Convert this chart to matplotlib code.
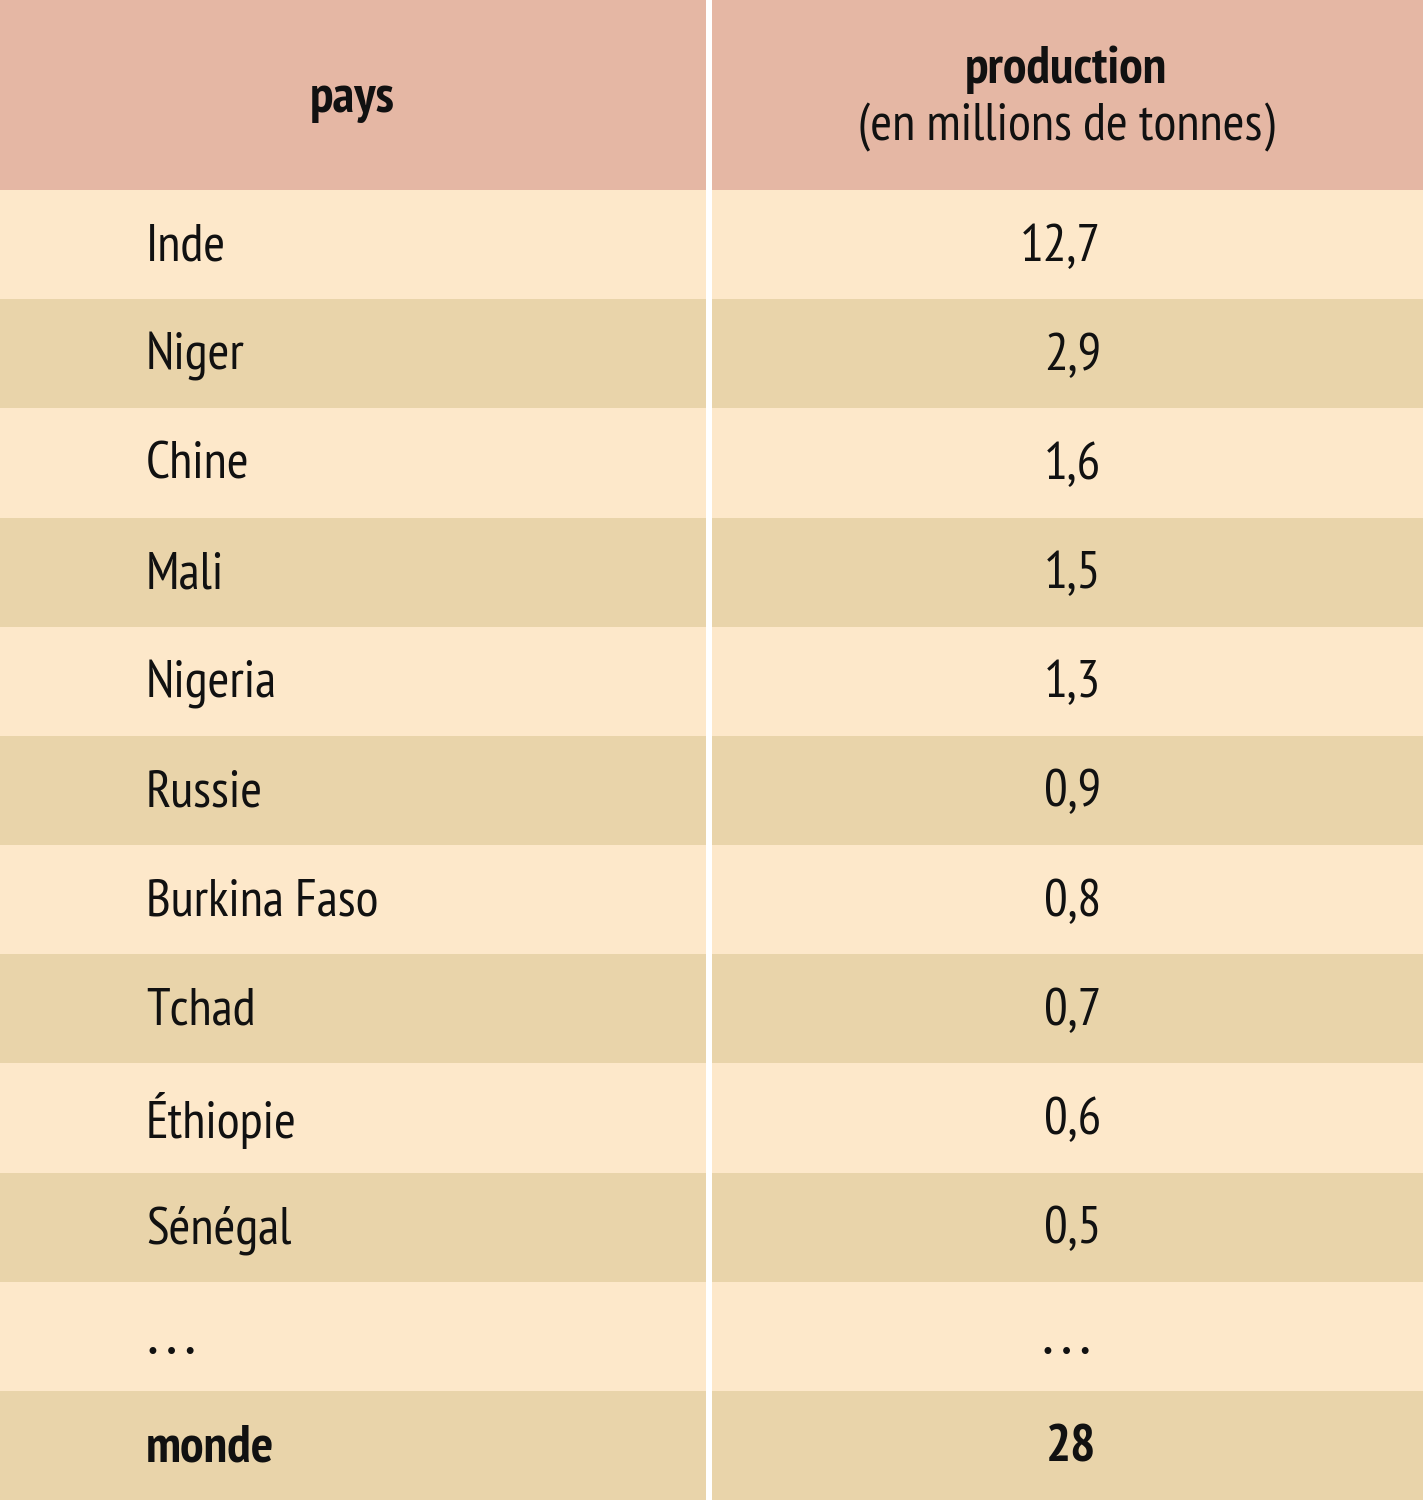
import matplotlib
matplotlib.use("Agg")
import matplotlib.pyplot as plt
from matplotlib import font_manager
from matplotlib.patches import Rectangle

pays = ["Inde", "Niger", "Chine", "Mali", "Nigeria", "Russie", "Burkina Faso",
        "Tchad", "Éthiopie", "Sénégal", "…", "monde"]
production = ["12,7", "2,9", "1,6", "1,5", "1,3", "0,9", "0,8", "0,7", "0,6", "0,5", "…", "28"]
header_left = "pays"
header_right_1 = "production"
header_right_2 = "(en millions de tonnes)"

names = {f.name for f in font_manager.fontManager.ttflist}
candidates = ["Myriad Pro Condensed", "PT Sans Narrow", "Fira Sans Condensed",
              "Roboto Condensed", "Encode Sans Condensed", "Open Sans Condensed",
              "Liberation Sans Narrow", "Archivo Narrow", "Asap Condensed",
              "Barlow Semi Condensed", "Roboto"]
fam = next((c for c in candidates if c in names), "DejaVu Sans")
plt.rcParams["font.family"] = [fam, "DejaVu Sans"]

W, H = 1423, 1500
fig = plt.figure(figsize=(W / 100, H / 100), dpi=100)
ax = fig.add_axes([0, 0, 1, 1])
ax.set_xlim(0, W)
ax.set_ylim(H, 0)
ax.axis("off")
fig.patch.set_facecolor("white")

header_c = "#E5B7A4"
light = "#FDE8CA"
dark = "#E9D4AA"
col_split_l, col_split_r = 706, 712
header_h = 190
row_h = (H - header_h) / len(pays)

ax.add_patch(Rectangle((0, 0), col_split_l, header_h, color=header_c, lw=0))
ax.add_patch(Rectangle((col_split_r, 0), W - col_split_r, header_h, color=header_c, lw=0))
fs = 38
ax.text(352, 99, header_left, ha="center", va="center", fontsize=fs, fontweight="bold", color="#111")
ax.text(1066, 70, header_right_1, ha="center", va="center", fontsize=fs, fontweight="bold", color="#111")
ax.text(1066, 127, header_right_2, ha="center", va="center", fontsize=fs, color="#111")

dots = "•\u2009•\u2009•"
for i, (p, v) in enumerate(zip(pays, production)):
    y0 = header_h + i * row_h
    c = light if i % 2 == 0 else dark
    ax.add_patch(Rectangle((0, y0), col_split_l, row_h, color=c, lw=0))
    ax.add_patch(Rectangle((col_split_r, y0), W - col_split_r, row_h, color=c, lw=0))
    yc = y0 + row_h / 2 + 3
    bold = (p == "monde")
    if p == "…":
        ax.text(146, yc + 14, dots, ha="left", va="center", fontsize=17, color="#111",
                family="DejaVu Sans")
        ax.text(1067, yc + 14, dots, ha="center", va="center", fontsize=17, color="#111",
                family="DejaVu Sans")
        continue
    ax.text(146, yc, p, ha="left", va="center", fontsize=fs,
            fontweight="bold" if bold else "normal", color="#111")
    ax.text(1101 if not bold else 1096, yc, v, ha="right", va="center", fontsize=fs,
            fontweight="bold" if bold else "normal", color="#111")

fig.savefig("out.png", dpi=100, facecolor="white")
